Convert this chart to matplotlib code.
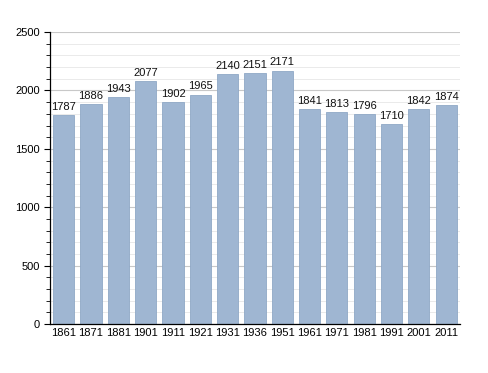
import matplotlib.pyplot as plt
import numpy as np
from matplotlib.ticker import MultipleLocator

years = ['1861', '1871', '1881', '1901', '1911', '1921', '1931', '1936', '1951',
         '1961', '1971', '1981', '1991', '2001', '2011']
population = [1787, 1886, 1943, 2077, 1902, 1965, 2140, 2151, 2171,
              1841, 1813, 1796, 1710, 1842, 1874]

plt.rcParams['font.family'] = ['Liberation Sans', 'DejaVu Sans']

fig = plt.figure(figsize=(4.88, 3.73), dpi=100)
ax = fig.add_axes([0.1025, 0.131, 0.84, 0.783])

x = np.arange(len(years))
ax.bar(x, population, width=0.77, color='#9fb6d2', edgecolor='#8fa8c6', linewidth=0.6, zorder=2)
for xi, v in zip(x, population):
    ax.text(xi, v + 28, str(v), ha='center', va='bottom', fontsize=8, color='#111111')

ax.set_xlim(-0.5, len(years) - 0.5)
ax.set_ylim(0, 2500)
ax.set_xticks(x)
ax.set_xticklabels(years, fontsize=8)
ax.yaxis.set_major_locator(MultipleLocator(500))
ax.yaxis.set_minor_locator(MultipleLocator(100))
ax.tick_params(axis='y', labelsize=8, length=4, width=0.8)
ax.tick_params(axis='y', which='minor', length=3, width=0.6)
ax.tick_params(axis='x', length=0, pad=3)
ax.grid(axis='y', which='major', color='#c8c8c8', linewidth=0.8, zorder=0)
ax.grid(axis='y', which='minor', color='#e6e6e6', linewidth=0.6, zorder=0)
ax.set_axisbelow(True)
for s in ['top', 'right']:
    ax.spines[s].set_visible(False)
ax.spines['left'].set_linewidth(0.9)
ax.spines['bottom'].set_linewidth(0.9)

plt.savefig('out.png', dpi=100)
